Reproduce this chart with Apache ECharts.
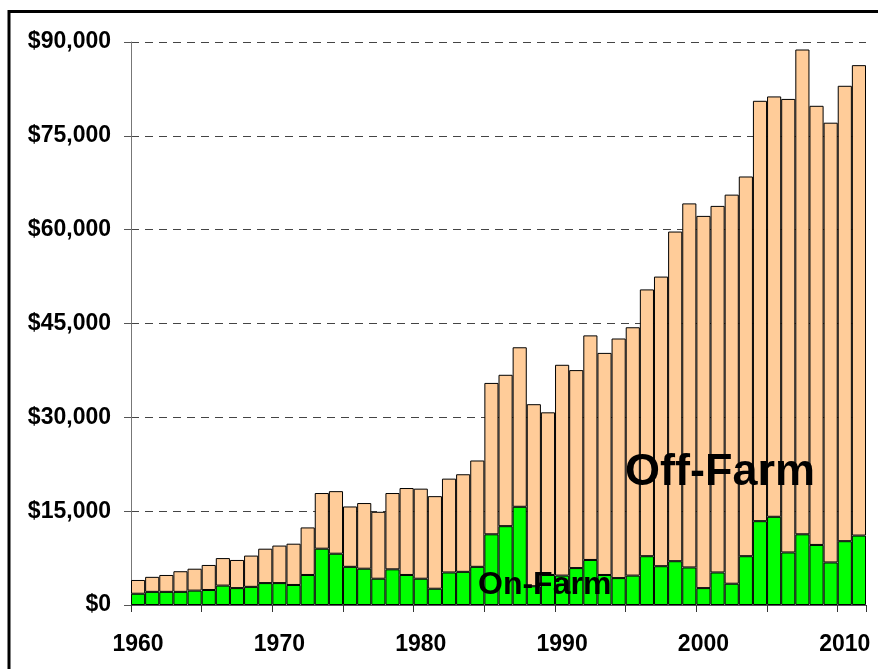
<!DOCTYPE html>
<html>
<head>
<meta charset="utf-8">
<script src="https://cdn.jsdelivr.net/npm/echarts@6/dist/echarts.min.js"></script>
<style>
html,body{margin:0;padding:0;background:#fff;}
#chart{width:878px;height:669px;}
</style>
</head>
<body>
<div id="chart"></div>
<script>
const years = [];
for (let y = 1960; y <= 2011; y++) years.push(String(y));

const onFarm = [
  1800, 2100, 2100, 2100, 2300, 2400, 3100, 2700, 2900, 3500,
  3500, 3200, 4800, 9000, 8200, 6100, 5800, 4200, 5700, 4800,
  4200, 2600, 5200, 5300, 6100, 11300, 12600, 15700, 3000, 4800,
  4700, 5900, 7200, 4800, 4300, 4700, 7800, 6200, 7000, 6000,
  2700, 5200, 3400, 7800, 13400, 14100, 8400, 11300, 9600, 6800,
  10200, 11100
];

const offFarm = [
  2200, 2400, 2700, 3300, 3500, 4000, 4400, 4500, 5000, 5500,
  6000, 6600, 7600, 8900, 10000, 9650, 10500, 10700, 12200, 13900,
  14400, 14800, 15000, 15600, 17000, 24200, 24200, 25500, 29100, 26000,
  33700, 31650, 35900, 35500, 38300, 39700, 42650, 46300, 52700, 58200,
  59500, 58600, 62200, 60700, 67200, 67200, 72500, 77500, 70200, 70300,
  72800, 75200
];

const yTicks = { min: 0, max: 90000, interval: 15000 };
const seriesNames = ['On-Farm', 'Off-Farm'];

const chart = echarts.init(document.getElementById('chart'), null, { renderer: 'canvas' });
const font = '"Liberation Sans", Arial, sans-serif';

chart.setOption({
  animation: false,
  backgroundColor: '#ffffff',
  grid: { left: 131, right: 12, top: 42, bottom: 64, containLabel: false },
  xAxis: {
    type: 'category',
    data: years,
    boundaryGap: true,
    axisLine: { show: true, lineStyle: { color: '#555', width: 1 } },
    axisTick: { show: true, interval: 4, length: 7, alignWithLabel: false, lineStyle: { color: '#333' } },
    axisLabel: { interval: 9, margin: 28, color: '#000', fontSize: 23, fontWeight: 'bold', fontFamily: font },
    splitLine: { show: false }
  },
  yAxis: {
    type: 'value',
    min: yTicks.min,
    max: yTicks.max,
    interval: yTicks.interval,
    axisLine: { show: true, lineStyle: { color: '#777', width: 1 } },
    axisTick: { show: true, length: 7, lineStyle: { color: '#555' } },
    axisLabel: {
      margin: 20, color: '#000', fontSize: 23, fontWeight: 'bold', fontFamily: font,
      formatter: v => '$' + v.toLocaleString('en-US')
    },
    splitLine: { show: true, lineStyle: { color: '#444', width: 1, type: [8, 6] } }
  },
  series: [
    {
      name: seriesNames[0], type: 'bar', stack: 'total', data: onFarm,
      barCategoryGap: '0%',
      itemStyle: { color: '#00FF00', borderColor: '#000', borderWidth: 1 }
    },
    {
      name: seriesNames[1], type: 'bar', stack: 'total', data: offFarm,
      barCategoryGap: '0%',
      itemStyle: { color: '#FFCC99', borderColor: '#000', borderWidth: 1 }
    }
  ],
  graphic: [
    { type: 'rect', shape: { x: 9, y: 11.5, width: 900, height: 700 },
      style: { fill: 'none', stroke: '#000', lineWidth: 3 }, z: 100 },
    { type: 'text', left: 625, top: 450, z: 100,
      style: { text: 'Off-Farm', fill: '#000', font: 'bold 45px "Liberation Sans", Arial, sans-serif' } },
    { type: 'text', left: 478, top: 569, z: 100,
      style: { text: 'On-Farm', fill: '#000', font: 'bold 32px "Liberation Sans", Arial, sans-serif' } }
  ]
});
</script>
</body>
</html>
